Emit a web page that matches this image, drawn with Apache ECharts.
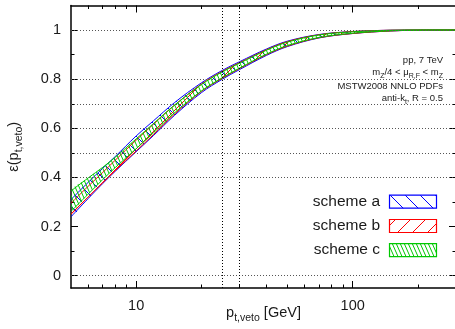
<!DOCTYPE html>
<html>
<head>
<meta charset="utf-8">
<script src="https://cdn.jsdelivr.net/npm/echarts@6/dist/echarts.min.js"></script>
<style>
html,body{margin:0;padding:0;background:#fff}
#chart{width:455px;height:329px}
</style>
</head>
<body>
<div id="chart"></div>
<script>
// p_t,veto points (GeV)
var ptVeto = [5, 6, 7, 8, 10, 12, 15, 20, 25, 30, 40, 50, 70, 100, 150, 200, 300];
// scheme a
var aLow = [0.24, 0.314, 0.375, 0.425, 0.505, 0.57, 0.652, 0.745, 0.8, 0.839, 0.897, 0.933, 0.968, 0.986, 0.9965, 0.9995, 1.0];
var aUp  = [0.31, 0.38, 0.437, 0.485, 0.569, 0.63, 0.704, 0.785, 0.836, 0.871, 0.923, 0.955, 0.982, 0.994, 0.9995, 1.0, 1.0];
// scheme b
var bLow = [0.25, 0.32, 0.378, 0.428, 0.508, 0.574, 0.657, 0.75, 0.804, 0.843, 0.9, 0.935, 0.969, 0.986, 0.9965, 0.9995, 1.0];
var bUp  = [0.295, 0.364, 0.42, 0.47, 0.552, 0.616, 0.693, 0.78, 0.832, 0.867, 0.92, 0.953, 0.981, 0.994, 0.9995, 1.0, 1.0];
// scheme c
var cLow = [0.262, 0.332, 0.391, 0.44, 0.517, 0.581, 0.662, 0.752, 0.806, 0.845, 0.902, 0.937, 0.97, 0.987, 0.997, 0.9995, 1.0];
var cUp  = [0.345, 0.398, 0.441, 0.482, 0.557, 0.619, 0.694, 0.778, 0.83, 0.865, 0.918, 0.951, 0.98, 0.993, 0.999, 1.0, 1.0];

var xTicks = [10, 100];
var xMinor = [6, 7, 8, 9, 20, 30, 40, 50, 60, 70, 80, 90, 200];
var yTicks = [0, 0.2, 0.4, 0.6, 0.8, 1];
var yMinor = [0.1, 0.3, 0.5, 0.7, 0.9];
var hGrid = [0, 0.4, 0.5, 0.6, 0.7, 0.8, 1];
var vGrid = [25, 30];

var FONT = "'Liberation Sans', Arial, sans-serif";

// hatch pattern tile
function hatch(color, w, h, flip){
  var c = document.createElement('canvas');
  c.width = w; c.height = h;
  var g = c.getContext('2d');
  g.strokeStyle = color;
  g.lineWidth = 1;
  g.beginPath();
  for (var k = -1; k <= 1; k++) {
    if (!flip) { g.moveTo(k * w, 0); g.lineTo(k * w + w, h); }
    else { g.moveTo(k * w, h); g.lineTo(k * w + w, 0); }
  }
  g.stroke();
  return {image: c, repeat: 'repeat'};
}

var blue = '#0000ff', red = '#ff0000', green = '#00c800';
var patA = hatch(blue, 15, 15, false);
var patB = hatch(red, 15, 15, true);
var patC = hatch(green, 4, 9, false);

// band drawn as hatched polygon plus its two edges
function band(name, color, low, up, pat){
  return {
    type: 'custom',
    name: name,
    xAxisIndex: 0, yAxisIndex: 0,
    data: [[10, 0.5]],
    clip: true,
    silent: true,
    z: 3,
    renderItem: function(params, api){
      var lo = ptVeto.map(function(p, i){ return api.coord([p, low[i]]); });
      var hi = ptVeto.map(function(p, i){ return api.coord([p, up[i]]); });
      return {
        type: 'group',
        children: [
          {type: 'polygon', shape: {points: lo.concat(hi.slice().reverse()), smooth: 0.35},
           style: {fill: pat, stroke: null}},
          {type: 'polyline', shape: {points: lo, smooth: 0.35}, style: {stroke: color, lineWidth: 1, fill: null}},
          {type: 'polyline', shape: {points: hi, smooth: 0.35}, style: {stroke: color, lineWidth: 1, fill: null}}
        ]
      };
    }
  };
}

function xAx(pos, ticks, len, main){
  return {
    type: 'log', logBase: 10, min: 5, max: 300, position: pos,
    axisLine: {show: main, onZero: false, lineStyle: {color: '#000', width: 1.5}},
    axisTick: {show: true, inside: true, length: len, customValues: ticks, lineStyle: {color: '#000', width: 1}},
    axisLabel: main && pos === 'bottom'
      ? {show: true, customValues: xTicks, color: '#1a1a1a', fontSize: 14.5, fontFamily: FONT, margin: 10}
      : {show: false},
    splitLine: {show: false}
  };
}
function yAx(pos, ticks, len, main){
  return {
    type: 'value', min: -0.05, max: 1.1, position: pos,
    axisLine: {show: main, onZero: false, lineStyle: {color: '#000', width: 1.5}},
    axisTick: {show: true, inside: true, length: len, customValues: ticks, lineStyle: {color: '#000', width: 1}},
    axisLabel: main && pos === 'left'
      ? {show: true, customValues: yTicks, color: '#1a1a1a', fontSize: 14.5, fontFamily: FONT, margin: 10,
         formatter: function(v){ return String(Math.round(v * 10) / 10); }}
      : {show: false},
    splitLine: {show: false}
  };
}

var subRich = {
  n: {fontSize: 14.5, lineHeight: 22, fontFamily: FONT, color: '#1a1a1a'},
  s: {fontSize: 10.5, lineHeight: 11, verticalAlign: 'bottom', fontFamily: FONT, color: '#1a1a1a'}
};

var xAxes = [xAx('bottom', xTicks, 7, true), xAx('bottom', xMinor, 3.5, false),
             xAx('top', xTicks, 7, true), xAx('top', xMinor, 3.5, false)];
xAxes[0].name = '{n|p}{s|t,veto}{n| [GeV]}';
xAxes[0].nameLocation = 'middle';
xAxes[0].nameGap = 14;
xAxes[0].nameMoveOverlap = false;
xAxes[0].nameTextStyle = {fontFamily: FONT, color: '#1a1a1a', rich: subRich};

var yAxes = [yAx('left', yTicks, 7, true), yAx('left', yMinor, 3.5, false),
             yAx('right', yTicks, 7, true), yAx('right', yMinor, 3.5, false)];
yAxes[0].name = '{n|ε(p}{s|t,veto}{n|)}';
yAxes[0].nameLocation = 'middle';
yAxes[0].nameGap = 46;
yAxes[0].nameMoveOverlap = false;
yAxes[0].nameTextStyle = {fontFamily: FONT, color: '#1a1a1a', rich: subRich};

var gridSeries = {
  type: 'line', data: [], xAxisIndex: 0, yAxisIndex: 0, silent: true, z: 1,
  markLine: {
    silent: true, symbol: ['none', 'none'], label: {show: false}, animation: false,
    data: hGrid.map(function(v){ return {yAxis: v, lineStyle: {color: '#555', width: 1, type: [1, 2]}}; })
      .concat(vGrid.map(function(v){ return {xAxis: v, lineStyle: {color: '#000', width: 1, type: [1, 2]}}; }))
  }
};

// annotation block
var rs = {
  a: {fontSize: 9.5, lineHeight: 15, fontFamily: FONT, fill: '#1a1a1a'},
  s: {fontSize: 7, lineHeight: 8, verticalAlign: 'bottom', fontFamily: FONT, fill: '#1a1a1a'}
};
var notes = [
  ['{a|pp, 7 TeV}', 60],
  ['{a|m}{s|Z}{a|/4 < μ}{s|R,F}{a| < m}{s|Z}', 72.5],
  ['{a|MSTW2008 NNLO PDFs}', 86.3],
  ['{a|anti-k}{s|t}{a|, R = 0.5}', 98.5]
];
var graphics = notes.map(function(n){
  return {type: 'text', x: 443, y: n[1], z: 10,
    style: {text: n[0], rich: rs, align: 'right', verticalAlign: 'middle', fontFamily: FONT, fontSize: 9.5, fill: '#1a1a1a'}};
});

// key
var keys = [['scheme a', blue, patA, 201.7], ['scheme b', red, patB, 226], ['scheme c', green, patC, 250.2]];
keys.forEach(function(k){
  graphics.push({type: 'text', x: 380, y: k[3], z: 10,
    style: {text: k[0], align: 'right', verticalAlign: 'middle', fontFamily: FONT, fontSize: 15.5, fill: '#1a1a1a'}});
  graphics.push({type: 'rect', z: 10, shape: {x: 389.5, y: k[3] - 6.5, width: 47, height: 13},
    style: {fill: k[2], stroke: k[1], lineWidth: 1.2}});
});

var chart = echarts.init(document.getElementById('chart'));
chart.setOption({
  animation: false,
  backgroundColor: '#fff',
  grid: {left: 71, right: -1, top: 5.5, bottom: 41, containLabel: false, outerBoundsMode: 'none'},
  xAxis: xAxes,
  yAxis: yAxes,
  graphic: graphics,
  series: [
    gridSeries,
    band('scheme a', blue, aLow, aUp, patA),
    band('scheme b', red, bLow, bUp, patB),
    band('scheme c', green, cLow, cUp, patC)
  ]
});
</script>
</body>
</html>
